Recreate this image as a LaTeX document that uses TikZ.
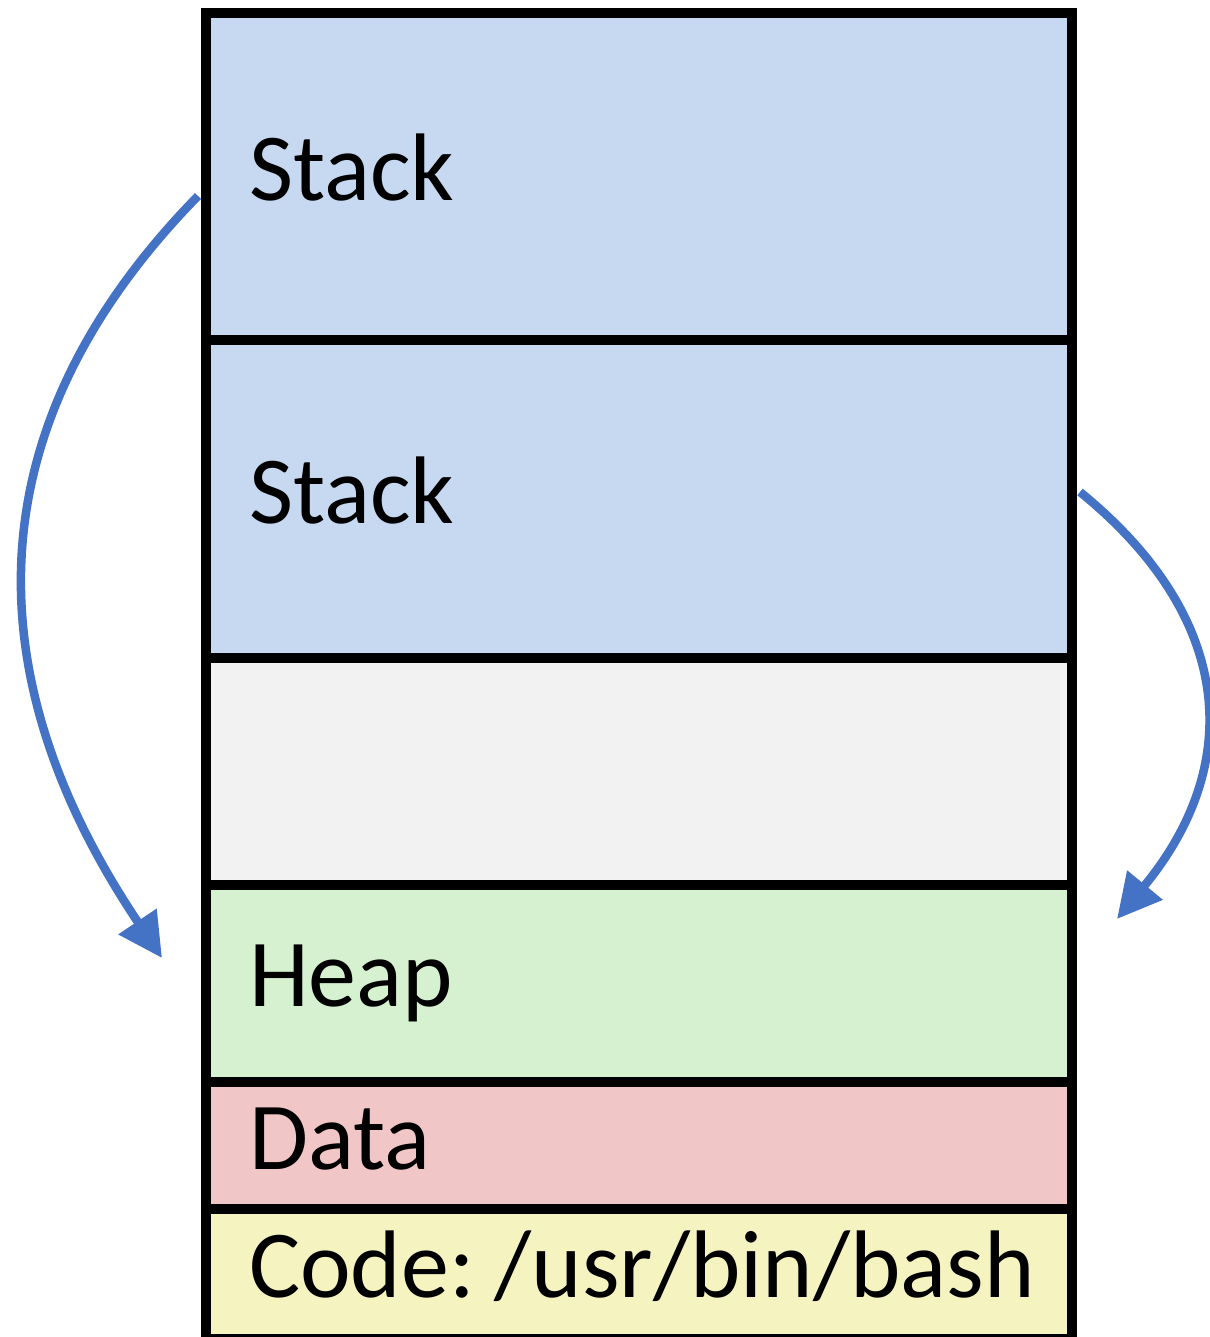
\documentclass[tikz,border=0pt]{standalone}
\usepackage{fontspec}
\setmainfont{Carlito}
\usetikzlibrary{positioning}
\usetikzlibrary{arrows.meta}

\definecolor{stackblue}{HTML}{C7D9F1}
\definecolor{freegray}{HTML}{F2F2F2}
\definecolor{heapgreen}{HTML}{D6F1D0}
\definecolor{datapink}{HTML}{F1C6C7}
\definecolor{codeyellow}{HTML}{F5F4C0}
\definecolor{arrowblue}{HTML}{4472C4}

\begin{document}
\begin{tikzpicture}[x=0.01cm, y=-0.01cm, font=\fontsize{27.3}{33}\selectfont\frenchspacing,
		segnode/.style={rectangle,draw=black,line width=1mm,outer sep=0pt,inner xsep=0.43cm,text width=7.79cm,align=left,text height=19.1pt,text depth=5.5pt},
		growarrow/.style={draw=arrowblue,line width=0.85mm,-{Triangle[length=4.4mm,width=4.4mm]}}]
		\useasboundingbox (0,0) rectangle (1209,1337);
		\node[segnode,fill=stackblue,minimum height=3.265cm,anchor=north west] (stacka) at (206,13.5) {Stack};
		\node[segnode,fill=stackblue,minimum height=3.18cm] (stackb) [below = 0cm of stacka] {Stack};
		\node[segnode,fill=freegray,minimum height=2.26cm] (free) [below = 0cm of stackb] {};
		\node[segnode,fill=heapgreen,minimum height=1.97cm] (heap) [below = 0cm of free] {Heap};
		\node[segnode,fill=datapink,minimum height=1.27cm] (data) [below = 0cm of heap] {Data};
		\node[segnode,fill=codeyellow,minimum height=1.30cm] (code) [below = 0cm of data] {\mbox{Code:\hspace{0.21em}/usr/bin/bash}};
		\coordinate (stackaout) at (198,196);
		\coordinate (heapleft) at (162,958);
		\coordinate (stackbout) at (1080,492);
		\coordinate (heapright) at (1117,919);
		\draw[growarrow] (stackaout) .. controls (-33,432) and (-22,684) .. (heapleft);
		\draw[growarrow] (stackbout) .. controls (1235,618) and (1244,765) .. (heapright);
	\end{tikzpicture}
\end{document}
